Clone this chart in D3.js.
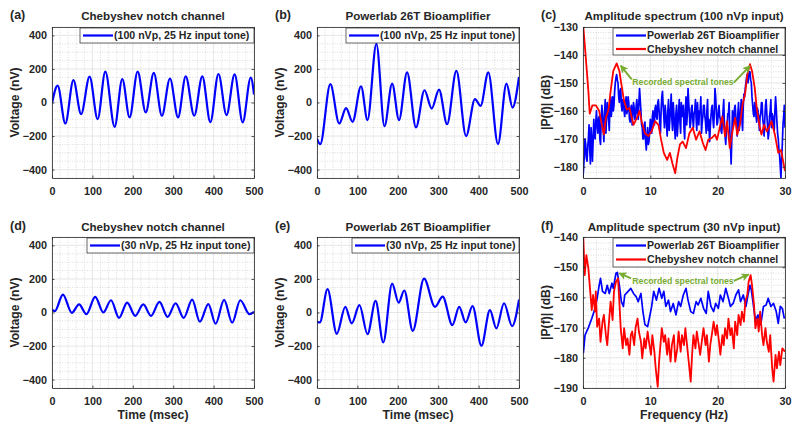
<!DOCTYPE html>
<html><head><meta charset="utf-8">
<script src="https://cdn.jsdelivr.net/npm/d3@7"></script>
<style>
body{margin:0;background:#fff;}
svg text{font-family:"Liberation Sans",Arial,Helvetica,sans-serif;font-weight:bold;fill:#262626;}
</style></head><body>
<svg id="chart" width="800" height="433"></svg>
<script>
// ---------------- DATA ----------------
const timeTicks = [0,100,200,300,400,500];
const voltTicks = [-400,-200,0,200,400];
const freqTicks = [0,10,20,30];
const specTicksC = [-180,-170,-160,-150,-140,-130];
const specTicksF = [-190,-180,-170,-160,-150,-140];

// (a) Chebyshev notch channel, 100 nVp
const aTime = [0,14,33,53,72,93,113,132,155,174,192,212,232,252,272,292,312,331,352,372,392,412,432,452,472,492,500];
const aVolt = [-5,101,-125,133,-69,154,-99,184,-145,140,-89,184,-59,176,-79,143,-89,156,-79,156,-117,170,-75,168,-119,149,48];
// (b) Powerlab 26T, 100 nVp
const bTime = [0,8,33,55,72,88,109,125,147,167,186,203,223,245,266,284,302,322,345,369,391,405,424,448,469,484,500];
const bVolt = [-215,-248,109,-125,-34,-115,97,-105,350,-141,113,-105,180,-148,73,-36,77,-129,188,-200,20,-20,180,-248,113,-30,152];
// (d) Chebyshev notch channel, 30 nVp
const dTime = [0,7,27,49,67,85,107,127,146,166,186,206,226,245,266,286,306,326,347,366,387,405,426,446,466,489,500];
const dVolt = [18,8,107,-2,48,-10,93,0,73,-32,59,-20,48,-20,63,-26,55,-32,77,-55,50,-67,75,-61,73,-10,4];
// (e) Powerlab 26T, 30 nVp
const eTime = [0,7,26,49,70,86,105,125,145,164,186,202,216,237,265,292,311,335,352,368,385,407,428,444,463,483,500];
const eVolt = [-55,-59,139,-127,34,-65,44,-129,69,-178,172,59,131,-109,202,34,95,-75,34,-59,38,-198,14,-95,55,-81,77];

// (c) spectrum, 100 nVp input: Powerlab (blue), bins every 0.1 Hz from 0 Hz
const cBlueStep = 0.1;
const cBlueDb = [
 -184,-180,-176,-170,-172,-177,-178,-173,-170,-165,-174,-179,-166,-170,-178,-171,-163,-168,-170,-164,
 -160,-165,-168,-163,-162,-170,-172,-164,-158,-161,-166,-171,-161,-156,-168,-163,-157,-160,-163,-167,
 -158,-155,-162,-159,-155,-160,-158,-153,-150,-148,-147,-149,-150,-155,-157,-153,-152,-158,-160,-156,
 -156,-160,-162,-158,-155,-161,-160,-155,-157,-163,-164,-159,-158,-165,-161,-157,-159,-163,-162,-158,
 -156,-161,-163,-157,-152,-156,-160,-165,-166,-170,-170,-165,-164,-171,-174,-169,-166,-172,-171,-167,
 -163,-166,-168,-162,-160,-164,-165,-159,-158,-162,-163,-157,-156,-160,-164,-168,-160,-155,-153,-158,
 -162,-166,-158,-161,-165,-169,-160,-156,-167,-163,-159,-154,-163,-167,-157,-161,-166,-170,-161,-158,
 -169,-165,-160,-156,-164,-168,-157,-161,-162,-158,-166,-170,-160,-155,-165,-161,-152,-157,-161,-166,
 -164,-159,-158,-163,-166,-161,-160,-156,-163,-167,-157,-162,-165,-160,-160,-155,-168,-164,-162,-158,
 -158,-162,-164,-168,-160,-156,-167,-163,-171,-166,-162,-159,-158,-163,-166,-161,-152,-155,-160,-165,
 -164,-160,-158,-162,-163,-167,-168,-163,-160,-156,-165,-169,-172,-166,-166,-161,-161,-157,-167,-172,
 -179,-170,-160,-164,-164,-159,-158,-162,-165,-169,-161,-157,-167,-163,-160,-156,-163,-167,-158,-154,
 -155,-152,-150,-148,-147,-150,-148,-146,-146,-149,-150,-155,-158,-161,-162,-157,-158,-162,-164,-159,
 -160,-163,-167,-162,-161,-157,-157,-163,-165,-169,-163,-158,-156,-161,-165,-170,-168,-162,-160,-156,
 -166,-161,-162,-166,-167,-160,-155,-159,-164,-168,-170,-174,-176,-180,-184,-177,-172,-165,-162,-158,
 -166];
// (c) Chebyshev notch channel (red): [freq Hz, dB]
const cRed = [[0.05,-130],[0.45,-142],[0.8,-153],[1.0,-161],[1.4,-158],[1.9,-158],[2.4,-160],[2.8,-165],[3.1,-168.5],[3.4,-162.5],
 [3.8,-159.5],[4.1,-153],[4.5,-145.7],[5.0,-143],[5.4,-145.7],[5.7,-150.5],[6.1,-156.5],[6.5,-159.5],[6.9,-159],[7.2,-162],
 [7.5,-165],[8.0,-162.5],[8.4,-160],[8.7,-163.7],[9.2,-168],[9.7,-169],[10.2,-167.3],[10.7,-163.7],[11.2,-165],[11.6,-170.3],
 [12.0,-175],[12.5,-177.5],[12.9,-175],[13.3,-179],[13.7,-182.3],[14.0,-177],[14.4,-172],[14.8,-171],[15.3,-173.3],[15.8,-168],
 [16.3,-166],[16.8,-170.3],[17.3,-167.3],[17.8,-171.5],[18.2,-174],[18.6,-170.3],[19.1,-169.7],[19.6,-168.5],[19.9,-170.3],[20.4,-165],
 [20.7,-162],[21.1,-169],[21.4,-163.7],[21.8,-173.3],[22.2,-167.3],[22.6,-162.5],[22.9,-168.5],[23.3,-165],[23.7,-157.7],[24.1,-153.5],
 [24.4,-147],[24.8,-143.3],[25.1,-145.7],[25.5,-151.7],[25.8,-159],[26.2,-165],[26.5,-168.5],[26.9,-165],[27.3,-167.3],[27.7,-165.5],
 [28.0,-163.7],[28.5,-168.5],[29.0,-175],[29.4,-174],[29.8,-179],[30.0,-181.5]];

// (f) spectrum, 30 nVp input: Powerlab (blue) [freq Hz, dB]
const fBlue = [[0.05,-178.5],[0.3,-172.5],[0.8,-170],[1.3,-167],[1.8,-163.6],[2.1,-160.3],[2.4,-156],[2.6,-153.7],[2.9,-158],[3.3,-158.7],
 [3.6,-156],[3.9,-158.7],[4.3,-155.3],[4.5,-157],[4.9,-152],[5.1,-151.7],[5.4,-156],[5.7,-161.4],[6.0,-163],[6.2,-159.2],
 [6.7,-158],[7.1,-157],[7.5,-158.7],[7.9,-159.8],[8.2,-161.4],[8.6,-158.7],[8.9,-164.7],[9.2,-169],[9.6,-169.7],[9.9,-166.4],
 [10.2,-163],[10.5,-158],[10.9,-160.9],[11.3,-157],[11.7,-160.3],[12.0,-158],[12.3,-163],[12.7,-160.9],[13.0,-164.7],[13.4,-162],
 [13.8,-165.8],[14.2,-161.4],[14.5,-163],[14.9,-159.2],[15.3,-157],[15.6,-160.9],[16.0,-164.7],[16.4,-165.3],[16.8,-161.4],[17.1,-162.5],
 [17.5,-160.3],[17.9,-163.6],[18.3,-165.3],[18.6,-158],[19.0,-163],[19.4,-164.7],[19.7,-162],[20.1,-163.6],[20.4,-159.2],[20.8,-161.4],
 [21.2,-157],[21.6,-160.3],[21.9,-163],[22.3,-162],[22.7,-159.2],[23.1,-157.5],[23.4,-161.4],[23.8,-159.2],[24.2,-163],[24.5,-159.2],
 [24.8,-156],[25.0,-157.5],[25.3,-162.5],[25.6,-167.5],[26.0,-165.8],[26.4,-169],[26.8,-163],[27.2,-162.5],[27.5,-160.3],[27.9,-163],
 [28.3,-162],[28.7,-164.7],[29.0,-168.6],[29.3,-163],[29.6,-163.6],[29.9,-167]];
// (f) Chebyshev notch channel (red)
const fRed = [[0.05,-140.4],[0.25,-152.6],[0.5,-146],[0.8,-150.4],[1.0,-156],[1.3,-164.2],[1.5,-159.2],[1.8,-164.7],[1.9,-158],[2.1,-169.7],
 [2.4,-167],[2.6,-174.7],[2.9,-168],[3.1,-165.8],[3.4,-172.5],[3.6,-175.8],[3.9,-167],[4.1,-161.4],[4.4,-167.5],[4.6,-158],
 [4.9,-154.8],[5.2,-153.7],[5.4,-161.4],[5.6,-170.2],[5.9,-176.9],[6.1,-170.2],[6.4,-175.8],[6.6,-173.6],[6.9,-179],[7.1,-172.5],
 [7.3,-171.3],[7.6,-175.8],[7.8,-170.2],[8.1,-167],[8.3,-171.3],[8.6,-174.7],[8.8,-180.2],[9.1,-173.6],[9.3,-176.9],[9.6,-171.3],
 [9.8,-174.7],[10.1,-179],[10.3,-172.5],[10.6,-178],[10.8,-183.5],[11.1,-189.6],[11.3,-181.3],[11.5,-175.8],[11.7,-170.2],[12.0,-174.7],
 [12.2,-172.5],[12.5,-179],[12.7,-173.6],[13.0,-181.3],[13.2,-175.8],[13.5,-172.5],[13.7,-181.3],[14.0,-176.9],[14.2,-171.3],[14.5,-178],
 [14.7,-172.5],[15.0,-175.8],[15.2,-170.2],[15.5,-176.9],[15.7,-181.3],[16.0,-187.9],[16.2,-179],[16.4,-172.5],[16.7,-176.9],[16.9,-171.3],
 [17.2,-175.8],[17.4,-179],[17.7,-173.6],[17.9,-170.2],[18.2,-175.8],[18.4,-172.5],[18.7,-181.3],[18.9,-175.8],[19.2,-171.3],[19.4,-168],
 [19.7,-172.5],[19.9,-169.2],[20.2,-174.7],[20.4,-179],[20.7,-172.5],[20.9,-175.8],[21.1,-170.2],[21.4,-173.6],[21.6,-167],[21.9,-172.5],
 [22.1,-170.2],[22.4,-176.9],[22.6,-168],[22.9,-172.5],[23.1,-165.8],[23.4,-169.2],[23.6,-164.7],[23.9,-168],[24.1,-161.4],[24.4,-159.2],
 [24.6,-154.8],[24.9,-152.6],[25.1,-155.9],[25.4,-162.5],[25.6,-170.2],[25.9,-167],[26.1,-171.3],[26.3,-164.7],[26.6,-172.5],[26.8,-175.8],
 [27.1,-170.2],[27.3,-174.7],[27.6,-178],[27.8,-172.5],[28.1,-183.5],[28.3,-187.9],[28.6,-179],[28.8,-183.5],[29.1,-178],[29.3,-182.4],
 [29.6,-176.9],[29.8,-177.4],[30.0,-178]];

// annotation anchor points (data coordinates)
const cArrows = [[[7.23,-148.7],[5.6,-143.8]],[[22.4,-149.9],[24.8,-143.9]]];
const cNote = [14.85,-150.9];
const fArrows = [[[7.13,-153.7],[5.39,-152.0]],[[22.4,-154.5],[24.6,-152.4]]];
const fNote = [14.85,-155.4];

// ---------------- DRAW ----------------
const svg = d3.select('#chart');
const defs = svg.append('defs');
const GREEN = '#77ac30', AX = '#262626';
defs.append('marker').attr('id','ah').attr('viewBox','0 0 10 10').attr('refX',9).attr('refY',5)
  .attr('markerWidth',8).attr('markerHeight',8).attr('markerUnits','userSpaceOnUse').attr('orient','auto')
  .append('path').attr('d','M0,0 L10,5 L0,10 L2.5,5 z').attr('fill',GREEN);

let clipN = 0;
function makePanel(o){
  const x = d3.scaleLinear().domain(o.xDomain).range([o.left,o.right]);
  const y = d3.scaleLinear().domain(o.yDomain).range([o.bottom,o.top]);
  const g = svg.append('g');
  const W = o.right-o.left, H = o.bottom-o.top;
  const eps = 1e-9;
  const xMinor = d3.range(o.xDomain[0], o.xDomain[1]+eps, o.xMinor).filter(v=>!o.xTicks.some(t=>Math.abs(t-v)<eps));
  const yMinor = d3.range(o.yDomain[0], o.yDomain[1]+eps, o.yMinor).filter(v=>!o.yTicks.some(t=>Math.abs(t-v)<eps));
  const grid = g.append('g');
  grid.selectAll('.xm').data(xMinor).join('line').attr('x1',d=>x(d)).attr('x2',d=>x(d)).attr('y1',o.top).attr('y2',o.bottom)
    .attr('stroke','#c6c6c6').attr('stroke-width',0.6).attr('stroke-dasharray','1,1.5');
  grid.selectAll('.ym').data(yMinor).join('line').attr('y1',d=>y(d)).attr('y2',d=>y(d)).attr('x1',o.left).attr('x2',o.right)
    .attr('stroke','#c6c6c6').attr('stroke-width',0.6).attr('stroke-dasharray','1,1.5');
  grid.selectAll('.xM').data(o.xTicks).join('line').attr('x1',d=>x(d)).attr('x2',d=>x(d)).attr('y1',o.top).attr('y2',o.bottom)
    .attr('stroke','#dcdcdc').attr('stroke-width',0.7);
  grid.selectAll('.yM').data(o.yTicks).join('line').attr('y1',d=>y(d)).attr('y2',d=>y(d)).attr('x1',o.left).attr('x2',o.right)
    .attr('stroke','#dcdcdc').attr('stroke-width',0.7);
  const id = 'clip'+(clipN++);
  defs.append('clipPath').attr('id',id).append('rect').attr('x',o.left).attr('y',o.top).attr('width',W).attr('height',H);
  const plot = g.append('g').attr('clip-path',`url(#${id})`);
  const axes = g.append('g');
  return {x,y,g,plot,axes,o};
}
function finishAxes(p){
  const {x,y,axes,o} = p;
  const tk = 2.5;
  const style = sel => { sel.select('.domain').attr('stroke',AX).attr('stroke-width',0.8);
    sel.selectAll('.tick line').attr('stroke',AX).attr('stroke-width',0.8);
    sel.selectAll('text').attr('font-size','10.8px').attr('fill',AX).style('font-family','"Liberation Sans",Arial,sans-serif').style('font-weight','bold'); };
  axes.append('g').attr('transform',`translate(0,${o.bottom})`)
    .call(d3.axisBottom(x).tickValues(o.xTicks).tickSizeInner(-tk).tickSizeOuter(0).tickPadding(o.xPad)).call(style);
  axes.append('g').attr('transform',`translate(0,${o.top})`)
    .call(d3.axisTop(x).tickValues(o.xTicks).tickSizeInner(-tk).tickSizeOuter(0).tickFormat('')).call(style);
  axes.append('g').attr('transform',`translate(${o.left},0)`)
    .call(d3.axisLeft(y).tickValues(o.yTicks).tickSizeInner(-tk).tickSizeOuter(0).tickPadding(5)).call(style);
  axes.append('g').attr('transform',`translate(${o.right},0)`)
    .call(d3.axisRight(y).tickValues(o.yTicks).tickSizeInner(-tk).tickSizeOuter(0).tickFormat('')).call(style);
}
function labels(p, letter, title, ylab, xlab, base){
  const {o} = p;
  const cx = (o.left+o.right)/2, cy = (o.top+o.bottom)/2;
  svg.append('text').attr('x',o.left-42).attr('y',base+18.5).attr('font-size','12.5px').text(letter);
  svg.append('text').attr('x',cx).attr('y',base+20).attr('text-anchor','middle').attr('font-size','11.6px').text(title);
  svg.append('text').attr('transform',`translate(${o.left-33},${cy}) rotate(-90)`).attr('text-anchor','middle').attr('font-size','12.2px').text(ylab);
  if (xlab) svg.append('text').attr('x',cx).attr('y',o.bottom+31).attr('text-anchor','middle').attr('font-size','12.2px').text(xlab);
}
function legend(p, x0, y0, x1, y1, items){
  const g = p.g.append('g');
  g.append('rect').attr('x',x0).attr('y',y0).attr('width',x1-x0).attr('height',y1-y0).attr('fill','#fff').attr('stroke',AX).attr('stroke-width',0.7);
  items.forEach(it=>{
    g.append('line').attr('x1',x0+3).attr('x2',x0+33).attr('y1',it.y).attr('y2',it.y).attr('stroke',it.color).attr('stroke-width',2.2);
    g.append('text').attr('x',x0+34).attr('y',it.y).attr('dy','0.36em').attr('font-size','10.6px').attr('fill','#000').text(it.label);
  });
}

const rows = [{top:27,bottom:178,base:0},{top:237,bottom:388,base:211}];
const cols = [{left:52,right:254},{left:317,right:519},{left:583,right:785}];

function timePanel(r,c,tArr,vArr,letter,title,legLabel,xlab,legX){
  const p = makePanel({left:cols[c].left,right:cols[c].right,top:rows[r].top,bottom:rows[r].bottom,
    xDomain:[0,500],yDomain:[-450,450],xTicks:timeTicks,yTicks:voltTicks,xMinor:20,yMinor:50,xPad:9.5});
  const data = tArr.map((t,i)=>[t,vArr[i]]);
  p.plot.append('path').datum(data).attr('fill','none').attr('stroke','#0000ff').attr('stroke-width',2.2)
    .attr('d',d3.line().x(d=>p.x(d[0])).y(d=>p.y(d[1])).curve(d3.curveMonotoneX));
  legend(p, cols[c].left+legX, rows[r].top+1, cols[c].right, rows[r].top+16, [{y:rows[r].top+8.5,color:'#0000ff',label:legLabel}]);
  finishAxes(p);
  labels(p,letter,title,'Voltage (nV)',xlab,rows[r].base);
}
timePanel(0,0,aTime,aVolt,'(a)','Chebyshev notch channel','(100 nVp, 25 Hz input tone)',null,28);
timePanel(0,1,bTime,bVolt,'(b)','Powerlab 26T Bioamplifier','(100 nVp, 25 Hz input tone)',null,29);
timePanel(1,0,dTime,dVolt,'(d)','Chebyshev notch channel','(30 nVp, 25 Hz input tone)','Time (msec)',35);
timePanel(1,1,eTime,eVolt,'(e)','Powerlab 26T Bioamplifier','(30 nVp, 25 Hz input tone)','Time (msec)',35);

function specPanel(r,yDomain,yTicks,blue,red,letter,title,xlab,arrows,note){
  const c = 2;
  const p = makePanel({left:cols[c].left,right:cols[c].right,top:rows[r].top,bottom:rows[r].bottom,
    xDomain:[0,30],yDomain,xTicks:freqTicks,yTicks,xMinor:2,yMinor:2,xPad:9.5});
  const line = d3.line().x(d=>p.x(d[0])).y(d=>p.y(d[1]));
  p.plot.append('path').datum(blue).attr('fill','none').attr('stroke','#0000ff').attr('stroke-width',1.7).attr('stroke-linejoin','round').attr('d',line);
  p.plot.append('path').datum(red).attr('fill','none').attr('stroke','#ff0000').attr('stroke-width',1.8).attr('stroke-linejoin','round').attr('d',line);
  const t = rows[r].top;
  legend(p, 613, t+1, 785, r===0?t+28:t+30, [
    {y:t+8.5,color:'#0000ff',label:'Powerlab 26T Bioamplifier'},
    {y:r===0?t+22:t+22.5,color:'#ff0000',label:'Chebyshev notch channel'}]);
  arrows.forEach(a=>{
    p.g.append('line').attr('x1',p.x(a[0][0])).attr('y1',p.y(a[0][1])).attr('x2',p.x(a[1][0])).attr('y2',p.y(a[1][1]))
      .attr('stroke',GREEN).attr('stroke-width',1.9).attr('marker-end','url(#ah)');
  });
  p.g.append('text').attr('x',p.x(note[0])).attr('y',p.y(note[1])).attr('text-anchor','middle')
    .attr('font-size','8.7px').style('fill',GREEN).text('Recorded spectral tones');
  finishAxes(p);
  labels(p,letter,title,'|P(f)| (dB)',xlab,rows[r].base);
}
const cBlue = cBlueDb.map((v,i)=>[i*cBlueStep,v]);
specPanel(0,[-184,-130],specTicksC,cBlue,cRed,'(c)','Amplitude spectrum (100 nVp input)',null,cArrows,cNote);
specPanel(1,[-190,-140],specTicksF,fBlue,fRed,'(f)','Amplitude spectrum (30 nVp input)','Frequency (Hz)',fArrows,fNote);
</script>
</body></html>
